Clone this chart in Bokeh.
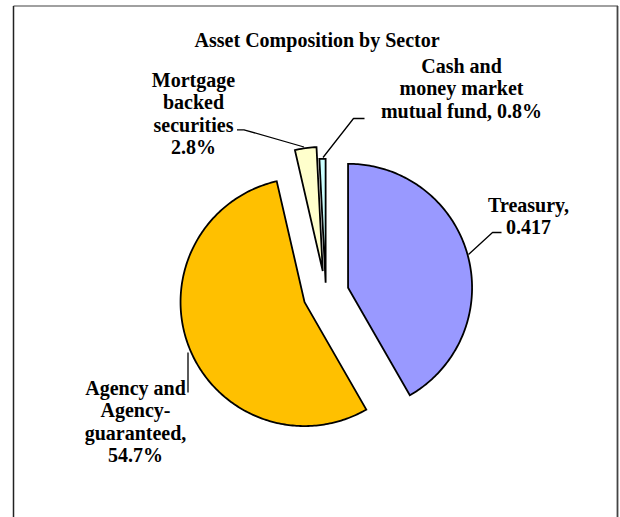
import numpy as np
from bokeh.plotting import figure
from bokeh.models import Range1d, ColumnDataSource
from bokeh.core.properties import value
from bokeh.embed import file_html
from bokeh.resources import INLINE

# ---- data ----
title_text = "Asset Composition by Sector"
sectors = ["Treasury", "Agency and Agency-guaranteed", "Mortgage backed securities",
           "Cash and money market mutual fund"]
shares = [0.417, 0.547, 0.028, 0.008]
label_texts = ["Treasury,\n0.417",
               "Agency and\nAgency-\nguaranteed,\n54.7%",
               "Mortgage\nbacked\nsecurities\n2.8%",
               "Cash and\nmoney market\nmutual fund, 0.8%"]

# ---- style / layout (page-pixel coordinates, y downwards) ----
colors = ["#9999FF", "#FFC000", "#FFFFCC", "#CCFFFF"]
explode = [0.185, 0.185, 0.185, 0.088]
cx, cy, r = 325.4, 293.2, 124.0
label_centers = [(528, 204), (135, 387), (193, 79), (461, 65)]
line_gap = 22.6
leaders = [
    ([501, 492, 468], [232, 232, 254]),
    ([187.5, 187.5], [352, 392]),
    ([236.5, 243.5, 303.5], [129.3, 129.3, 146.5]),
    ([364, 353, 322.5], [118, 118, 157]),
]
FONT = "Liberation Serif"

W, H = 620, 517
p = figure(width=W, height=H, output_backend="svg", toolbar_location=None,
           x_range=Range1d(0, W), y_range=Range1d(H, 0),
           min_border=0, outline_line_color=None)
p.axis.visible = False
p.grid.visible = False

# frame
p.line([13, 617.5], [5.5, 5.5], line_color="#808080", line_width=1.5)
p.line([13, 13], [5.5, 530], line_color="#222222", line_width=1.5)
p.line([617, 617], [5.5, 530], line_color="#444444", line_width=1.8)

# pie slices
xs, ys = [], []
cum = np.concatenate([[0.0], np.cumsum(shares)])
for i, s in enumerate(shares):
    a0, a1 = cum[i] * 2 * np.pi, cum[i + 1] * 2 * np.pi
    am = (a0 + a1) / 2
    ox = cx + explode[i] * r * np.sin(am)
    oy = cy - explode[i] * r * np.cos(am)
    t = np.linspace(a0, a1, max(4, int(s * 400)))
    px = np.concatenate([[ox], ox + r * np.sin(t)])
    py = np.concatenate([[oy], oy - r * np.cos(t)])
    xs.append(list(px))
    ys.append(list(py))
src = ColumnDataSource(dict(xs=xs, ys=ys, color=colors, name=sectors))
p.patches("xs", "ys", source=src, fill_color="color", line_color="black",
          line_width=1.8, line_join="miter")

# leader lines
for lx, ly in leaders:
    p.line(lx, ly, line_color="black", line_width=1.3)

# labels
tx, ty, tt = [], [], []
for (lx, ly), txt in zip(label_centers, label_texts):
    for k, line in enumerate(txt.split("\n")):
        tx.append(lx)
        ty.append(ly + k * line_gap)
        tt.append(line)
p.text(tx, ty, text=tt, text_font=value(FONT), text_font_style="bold",
       text_font_size="20px", text_align="center", text_baseline="middle",
       text_color="black")

p.text([316.6], [39], text=[title_text], text_font=value(FONT), text_font_style="bold",
       text_font_size="20px", text_align="center", text_baseline="middle",
       text_color="black")

open("out.html", "w").write(file_html(p, INLINE))
